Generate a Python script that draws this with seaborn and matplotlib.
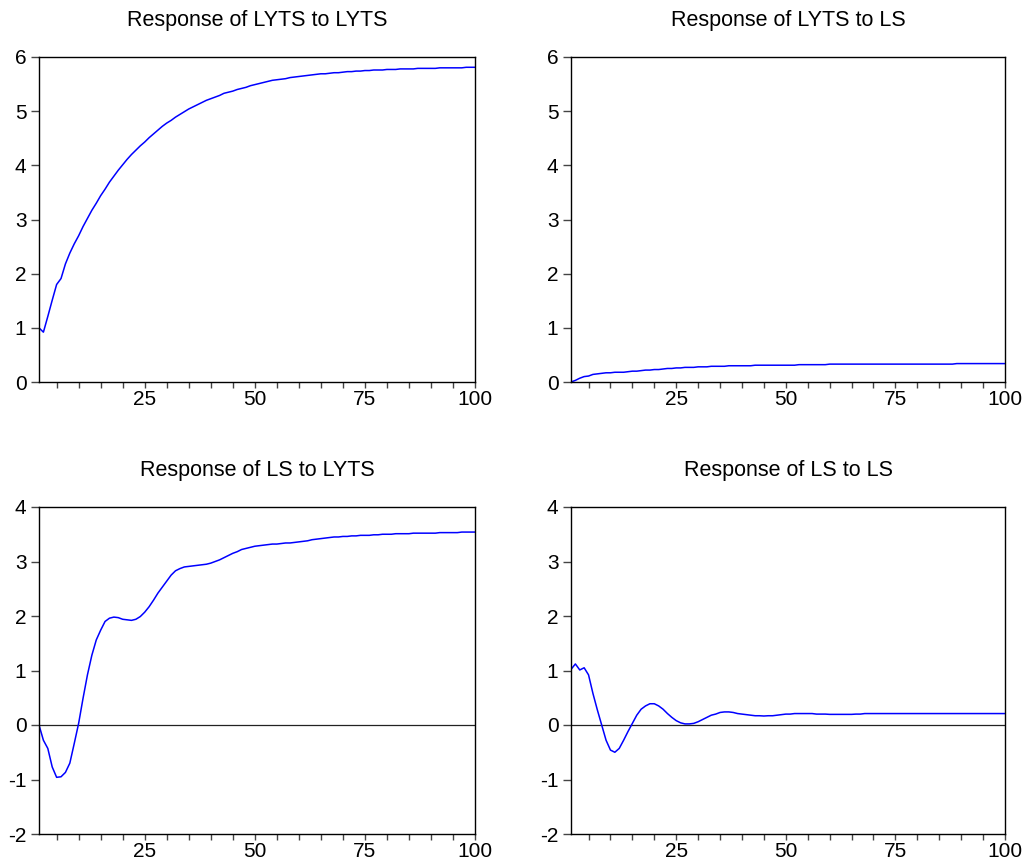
import matplotlib
matplotlib.use("Agg")
import matplotlib.pyplot as plt
import seaborn as sns
import numpy as np
from matplotlib.ticker import MultipleLocator, FixedLocator

# periods 1..100
periods = list(range(1, 101))

# Response of LYTS to LYTS
lyts_lyts = [1.00, 0.92, 1.21, 1.51, 1.80, 1.91, 2.18, 2.38, 2.55, 2.70,
             2.87, 3.02, 3.17, 3.30, 3.44, 3.56, 3.69, 3.80, 3.91, 4.01,
             4.11, 4.20, 4.28, 4.36, 4.43, 4.51, 4.58, 4.65, 4.72, 4.78,
             4.83, 4.89, 4.94, 4.99, 5.04, 5.08, 5.12, 5.16, 5.20, 5.23,
             5.26, 5.29, 5.33, 5.35, 5.37, 5.40, 5.42, 5.44, 5.47, 5.49,
             5.51, 5.53, 5.55, 5.57, 5.58, 5.59, 5.60, 5.62, 5.63, 5.64,
             5.65, 5.66, 5.67, 5.68, 5.69, 5.69, 5.70, 5.71, 5.71, 5.72,
             5.73, 5.73, 5.74, 5.74, 5.75, 5.75, 5.76, 5.76, 5.76, 5.77,
             5.77, 5.77, 5.78, 5.78, 5.78, 5.78, 5.79, 5.79, 5.79, 5.79,
             5.79, 5.80, 5.80, 5.80, 5.80, 5.80, 5.80, 5.81, 5.81, 5.81]

# Response of LYTS to LS
lyts_ls = [0.00, 0.03, 0.07, 0.10, 0.11, 0.14, 0.15, 0.16, 0.17, 0.17,
           0.18, 0.18, 0.18, 0.19, 0.20, 0.20, 0.21, 0.22, 0.22, 0.23,
           0.23, 0.24, 0.25, 0.25, 0.26, 0.26, 0.27, 0.27, 0.27, 0.28,
           0.28, 0.28, 0.29, 0.29, 0.29, 0.29, 0.30, 0.30, 0.30, 0.30,
           0.30, 0.30, 0.31, 0.31, 0.31, 0.31, 0.31, 0.31, 0.31, 0.31,
           0.31, 0.31, 0.32, 0.32, 0.32, 0.32, 0.32, 0.32, 0.32, 0.33,
           0.33, 0.33, 0.33, 0.33, 0.33, 0.33, 0.33, 0.33, 0.33, 0.33,
           0.33, 0.33, 0.33, 0.33, 0.33, 0.33, 0.33, 0.33, 0.33, 0.33,
           0.33, 0.33, 0.33, 0.33, 0.33, 0.33, 0.33, 0.33, 0.34, 0.34,
           0.34, 0.34, 0.34, 0.34, 0.34, 0.34, 0.34, 0.34, 0.34, 0.34]

# Response of LS to LYTS
ls_lyts = [0.00, -0.28, -0.43, -0.77, -0.96, -0.95, -0.87, -0.70, -0.34, 0.03,
           0.49, 0.92, 1.28, 1.56, 1.74, 1.90, 1.96, 1.98, 1.97, 1.94,
           1.93, 1.92, 1.94, 1.99, 2.07, 2.17, 2.29, 2.42, 2.53, 2.64,
           2.75, 2.83, 2.87, 2.90, 2.91, 2.92, 2.93, 2.94, 2.95, 2.97,
           3.00, 3.03, 3.07, 3.11, 3.15, 3.18, 3.22, 3.24, 3.26, 3.28,
           3.29, 3.30, 3.31, 3.32, 3.32, 3.33, 3.34, 3.34, 3.35, 3.36,
           3.37, 3.38, 3.40, 3.41, 3.42, 3.43, 3.44, 3.45, 3.45, 3.46,
           3.46, 3.47, 3.47, 3.48, 3.48, 3.48, 3.49, 3.49, 3.50, 3.50,
           3.50, 3.51, 3.51, 3.51, 3.51, 3.52, 3.52, 3.52, 3.52, 3.52,
           3.52, 3.53, 3.53, 3.53, 3.53, 3.53, 3.54, 3.54, 3.54, 3.54]

# Response of LS to LS
ls_ls = [1.02, 1.12, 1.01, 1.05, 0.92, 0.58, 0.28, 0.00, -0.28, -0.46,
         -0.50, -0.43, -0.28, -0.12, 0.03, 0.18, 0.29, 0.35, 0.39, 0.39,
         0.35, 0.29, 0.21, 0.14, 0.08, 0.04, 0.02, 0.02, 0.03, 0.06,
         0.10, 0.14, 0.18, 0.20, 0.23, 0.24, 0.24, 0.23, 0.21, 0.20,
         0.19, 0.18, 0.17, 0.17, 0.165, 0.17, 0.17, 0.18, 0.19, 0.20,
         0.20, 0.21, 0.21, 0.21, 0.21, 0.21, 0.20, 0.20, 0.20, 0.195,
         0.195, 0.195, 0.195, 0.195, 0.195, 0.20, 0.20, 0.21, 0.21, 0.21,
         0.21, 0.21, 0.21, 0.21, 0.21, 0.21, 0.21, 0.21, 0.21, 0.21,
         0.21, 0.21, 0.21, 0.21, 0.21, 0.21, 0.21, 0.21, 0.21, 0.21,
         0.21, 0.21, 0.21, 0.21, 0.21, 0.21, 0.21, 0.21, 0.21, 0.21]

titles = ["Response of LYTS to LYTS", "Response of LYTS to LS",
          "Response of LS to LYTS", "Response of LS to LS"]
series = [lyts_lyts, lyts_ls, ls_lyts, ls_ls]
ylims = [(0, 6), (0, 6), (-2, 4), (-2, 4)]

sns.set_theme(style="white")
plt.rcParams['font.family'] = ['Liberation Sans', 'DejaVu Sans']
plt.rcParams['axes.unicode_minus'] = False
plt.rcParams['text.color'] = 'black'
plt.rcParams['xtick.labelcolor'] = 'black'
plt.rcParams['ytick.labelcolor'] = 'black'

fig = plt.figure(figsize=(10.28, 8.67), dpi=100)
W, H = 1028, 867
boxes = [(39, 57, 475, 382), (571, 57, 1005, 382),
         (39, 507, 475, 834), (571, 507, 1005, 834)]

for i in range(4):
    l, t, r, b = boxes[i]
    ax = fig.add_axes([l / W, 1 - b / H, (r - l) / W, (b - t) / H])
    sns.lineplot(x=periods, y=series[i], ax=ax, color='#0000ff', linewidth=1.1)
    if ylims[i][0] < 0:
        ax.axhline(0, color='#222222', linewidth=0.9, zorder=1)
    ax.set_xlim(1, 100)
    ax.set_ylim(*ylims[i])
    ax.xaxis.set_major_locator(FixedLocator([25, 50, 75, 100]))
    ax.xaxis.set_minor_locator(FixedLocator([5, 10, 15, 20, 30, 35, 40, 45, 55, 60, 65, 70, 80, 85, 90, 95]))
    ax.yaxis.set_major_locator(MultipleLocator(1))
    ax.tick_params(axis='x', which='both', direction='out', length=4, width=1,
                   color='#444444', labelcolor='black', labelsize=15, pad=2, bottom=True)
    ax.tick_params(axis='y', which='major', direction='out', length=6, width=1,
                   color='#444444', labelcolor='black', labelsize=15, pad=3, left=True)
    for s in ax.spines.values():
        s.set_color('black')
        s.set_linewidth(1.0)
    ax.set_xlabel('')
    ax.set_ylabel('')
    ax.set_title(titles[i], fontsize=15.5, pad=22, color='black')

fig.savefig('out.png', dpi=100)
